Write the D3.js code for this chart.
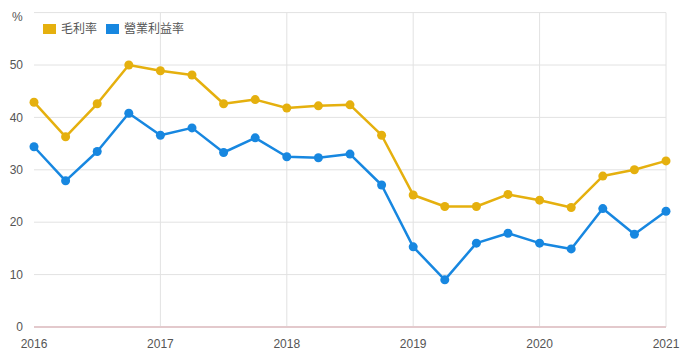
<!DOCTYPE html>
<html><head><meta charset="utf-8">
<script src="https://cdn.jsdelivr.net/npm/d3@7"></script>
<style>body{margin:0;background:#fff;}svg{display:block;font-family:"Liberation Sans",Arial,"Noto Sans CJK TC",sans-serif;}</style>
</head><body><svg id="c" width="692" height="362"></svg>
<script>
const periods = d3.range(21).map(i => 2016 + i * 0.25);
const grossMargin = [42.9,36.3,42.6,50.0,48.9,48.1,42.6,43.4,41.8,42.2,42.4,36.6,25.2,23.0,23.0,25.3,24.2,22.8,28.8,30.0,31.7];
const operatingMargin = [34.4,27.9,33.5,40.8,36.6,38.0,33.3,36.1,32.5,32.3,33.0,27.1,15.3,9.0,16.0,17.9,16.0,14.9,22.6,17.7,22.1];
const seriesNames = ["毛利率","營業利益率"];
const colors = ["#e5b00e","#1787e0"];
const xTicks = [2016,2017,2018,2019,2020,2021];
const yTicks = [0,10,20,30,40,50];

const svg = d3.select("#c");
const x = d3.scaleLinear().domain([2016,2021]).range([34,666]);
const y = d3.scaleLinear().domain([0,60]).range([327,12.6]);

svg.append("g").selectAll("line").data(yTicks.concat([60]).filter(d=>d>0)).join("line")
  .attr("x1",34).attr("x2",666).attr("y1",d=>y(d)).attr("y2",d=>y(d))
  .attr("stroke","#e2e2e2").attr("stroke-width",1);
svg.append("g").selectAll("line").data(xTicks.slice(1)).join("line")
  .attr("x1",d=>x(d)).attr("x2",d=>x(d)).attr("y1",y(60)).attr("y2",y(0))
  .attr("stroke","#e2e2e2").attr("stroke-width",1);

svg.append("line").attr("x1",34).attr("x2",666).attr("y1",y(0)).attr("y2",y(0))
  .attr("stroke","#e3c9cc").attr("stroke-width",2);

svg.append("g").selectAll("text").data(yTicks).join("text")
  .attr("x",23).attr("y",d=>y(d)).attr("dy","0.35em").attr("text-anchor","end")
  .attr("font-size",12).attr("fill","#555").text(d=>d);
svg.append("text").attr("x",12).attr("y",17).attr("dy","0.35em")
  .attr("font-size",12).attr("fill","#555").text("%");

svg.append("g").selectAll("text").data(xTicks).join("text")
  .attr("x",d=>x(d)).attr("y",344).attr("dy","0.35em").attr("text-anchor","middle")
  .attr("font-size",12).attr("fill","#555").text(d=>d);

const line = d3.line().x(d=>x(d[0])).y(d=>y(d[1]));
[grossMargin, operatingMargin].forEach((vals,i)=>{
  const pts = periods.map((p,j)=>[p,vals[j]]);
  svg.append("path").datum(pts).attr("d",line).attr("fill","none")
    .attr("stroke",colors[i]).attr("stroke-width",2.5).attr("stroke-linejoin","round");
  svg.append("g").selectAll("circle").data(pts).join("circle")
    .attr("cx",d=>x(d[0])).attr("cy",d=>y(d[1])).attr("r",4.5).attr("fill",colors[i]);
});

const leg = svg.append("g");
const legX = [43,106];
seriesNames.forEach((n,i)=>{
  leg.append("rect").attr("x",legX[i]).attr("y",24).attr("width",13).attr("height",10).attr("fill",colors[i]);
  leg.append("text").attr("x",legX[i]+18).attr("y",29).attr("dy","0.35em")
    .attr("font-family","'Noto Sans CJK TC',sans-serif")
    .attr("font-size",12).attr("fill","#555").text(n);
});
</script></body></html>
